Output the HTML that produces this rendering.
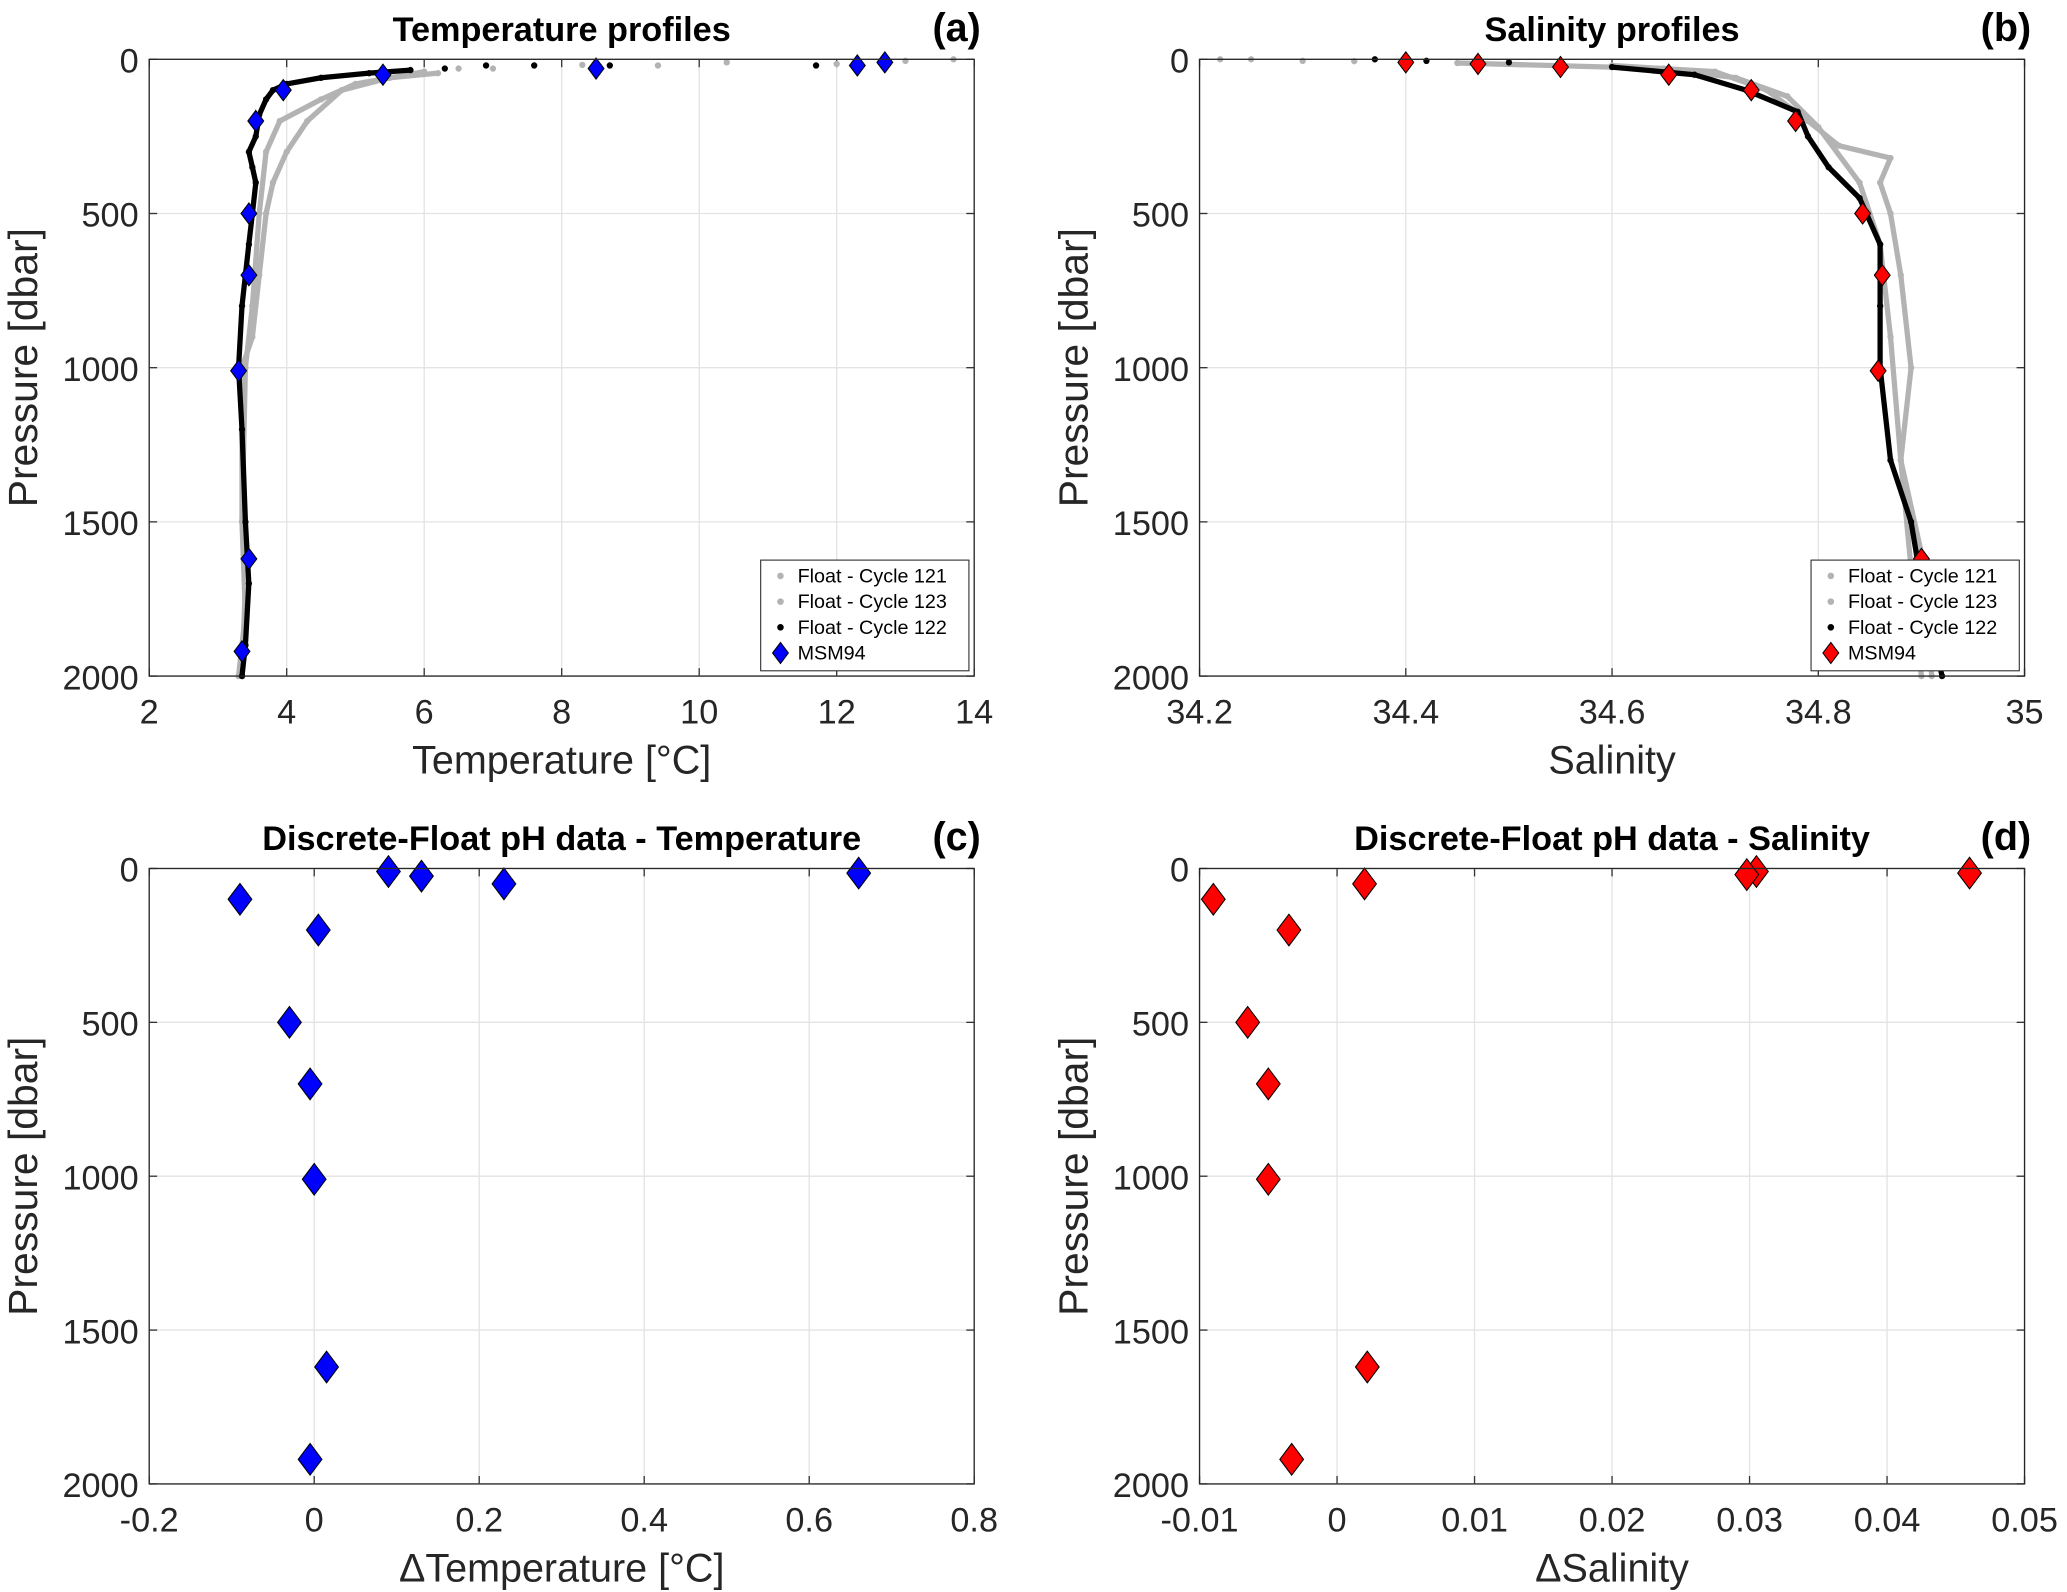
<!DOCTYPE html>
<html><head><meta charset="utf-8"><style>
html,body{margin:0;padding:0;background:#fff;}
svg{display:block;font-family:"Liberation Sans",sans-serif;}
</style></head><body>
<svg id="fig" width="2067" height="1592" viewBox="0 0 1568 1208" xmlns="http://www.w3.org/2000/svg"></svg>
<script>
// ---- data ----
const tempMSM_T=[12.7,12.3,8.5,5.4,3.95,3.55,3.45,3.45,3.3,3.45,3.35];
const tempMSM_P=[10,20,30,50,100,200,500,700,1010,1620,1920];
const tempC122_T=[11.7,8.7,7.6,6.9,6.3,5.8,5.2,4.5,4.0,3.8,3.7,3.6,3.55,3.45,3.5,3.55,3.5,3.45,3.4,3.35,3.3,3.35,3.4,3.45,3.4,3.35];
const tempC122_P=[20,20,20,20,30,35,45,60,80,100,130,180,250,300,350,400,500,600,700,800,1000,1200,1500,1700,1900,2000];
const tempC123_T=[13.7,12.0,9.4,7.0,6.2,5.5,4.8,4.3,4.0,3.8,3.7,3.6,3.5,3.35,3.35,3.4,3.35];
const tempC123_P=[0,15,20,30,45,60,100,200,300,400,500,700,900,1000,1500,1700,2000];
const tempC121_T=[13.0,10.4,8.3,6.5,6.0,5.0,4.5,3.9,3.7,3.6,3.5,3.4,3.35,3.4,3.3];
const tempC121_P=[5,10,18,30,40,80,130,200,300,500,800,1000,1500,1800,2000];
const salMSM_S=[34.40,34.47,34.55,34.655,34.735,34.778,34.843,34.862,34.858,34.9,34.905];
const salMSM_P=[10,15,25,50,100,200,500,700,1010,1620,1920];
const salC122_S=[34.37,34.42,34.5,34.6,34.68,34.73,34.78,34.79,34.81,34.84,34.86,34.86,34.86,34.87,34.89,34.9,34.92];
const salC122_P=[0,5,10,25,50,100,170,250,350,450,600,800,1000,1300,1500,1700,2000];
const salC123_S=[34.22,34.3,34.4,34.6,34.7,34.75,34.79,34.82,34.87,34.86,34.87,34.88,34.89,34.88,34.9,34.91];
const salC123_P=[0,5,10,20,40,100,200,280,320,400,500,700,1000,1300,1600,2000];
const salC121_S=[34.25,34.35,34.45,34.65,34.72,34.77,34.8,34.84,34.86,34.87,34.88,34.9];
const salC121_P=[0,6,12,30,60,120,220,400,600,900,1300,2000];
const dT_vals=[0.66,0.09,0.13,0.23,-0.09,0.005,-0.03,-0.005,0.0,0.015,-0.005];
const dT_P=[15,10,25,50,100,200,500,700,1010,1620,1920];
const dS_vals=[0.046,0.0305,0.0298,0.002,-0.009,-0.0035,-0.0065,-0.005,-0.005,0.0022,-0.0033];
const dS_P=[15,10,20,50,100,200,500,700,1010,1620,1920];
const yTicks=[0,500,1000,1500,2000];
const xTicksA=[2,4,6,8,10,12,14];
const xTicksB=[34.2,34.4,34.6,34.8,35];
const xTicksC=[-0.2,0,0.2,0.4,0.6,0.8];
const xTicksD=[-0.01,0,0.01,0.02,0.03,0.04,0.05];

const NS="http://www.w3.org/2000/svg";
const svg=document.getElementById('fig');
function mk(tag,attrs,parent){const e=document.createElementNS(NS,tag);for(const k in attrs)e.setAttribute(k,attrs[k]);(parent||svg).appendChild(e);return e;}
function txt(s,attrs,parent){const e=mk('text',attrs,parent);e.textContent=s;return e;}

function panel(id,box,xmin,xmax,xt,xlab,title,letter,titleX){
  const g=mk('g',{});
  
  
  const [L,R,T,B]=box;
  const sx=v=>L+(v-xmin)/(xmax-xmin)*(R-L);
  const sy=p=>T+p/2000*(B-T);
  mk('rect',{x:L,y:T,width:R-L,height:B-T,fill:'#fff'},g);
  xt.forEach(v=>{const l=mk('line',{x1:sx(v),x2:sx(v),y1:T,y2:B,stroke:'#e3e3e3','stroke-width':1},g);
    
    mk('line',{x1:sx(v),x2:sx(v),y1:B,y2:B-6,stroke:'#333'},g);mk('line',{x1:sx(v),x2:sx(v),y1:T,y2:T+6,stroke:'#333'},g);
    const t=txt(String(v),{x:sx(v),y:B+36,'text-anchor':'middle','font-size':26,fill:'#262626'},g);
    });
  yTicks.forEach(p=>{const l=mk('line',{x1:L,x2:R,y1:sy(p),y2:sy(p),stroke:'#e3e3e3'},g);
    
    mk('line',{x1:L,x2:L+6,y1:sy(p),y2:sy(p),stroke:'#333'},g);mk('line',{x1:R,x2:R-6,y1:sy(p),y2:sy(p),stroke:'#333'},g);
    const t=txt(String(p),{x:L-8,y:sy(p)+10,'text-anchor':'end','font-size':26,fill:'#262626'},g);
    });
  const xl=txt(xlab,{x:(L+R)/2,y:B+74,'text-anchor':'middle','font-size':30,fill:'#262626'},g);
  
  const yl=txt('Pressure [dbar]',{x:0,y:0,'text-anchor':'middle','font-size':31,fill:'#262626',transform:`translate(${L-85},${(T+B)/2}) rotate(-90)`},g);
  
  const tt=txt(title,{x:titleX,y:T-14,'text-anchor':'middle','font-size':26,'font-weight':'bold',fill:'#000'},g);
  
  const lt=txt(letter,{x:R+5,y:T-14,'text-anchor':'end','font-size':30,'font-weight':'bold',fill:'#000'},g);
  
  return {g,sx,sy,L,R,T,B};
}
function profile(pn,xs,ps,color,w,name,pmin){
  const idx=ps.map((p,i)=>i).filter(i=>ps[i]>=pmin);
  const pts=idx.map(i=>pn.sx(xs[i]).toFixed(1)+','+pn.sy(ps[i]).toFixed(1)).join(' ');
  const pl=mk('polyline',{points:pts,fill:'none',stroke:color,'stroke-width':w,'stroke-linejoin':'round'},pn.g);
  
  xs.forEach((v,i)=>{const c=mk('circle',{cx:pn.sx(v),cy:pn.sy(ps[i]),r:2.4,fill:color},pn.g);
    });
}
function diamonds(pn,xs,ps,color,hw,hh,name){
  xs.forEach((v,i)=>{const x=pn.sx(v),y=pn.sy(ps[i]);
    const d=mk('polygon',{points:`${x},${y-hh} ${x+hw},${y} ${x},${y+hh} ${x-hw},${y}`,fill:color,stroke:'#000','stroke-width':0.8},pn.g);
    });
}
function frame(pn){mk('rect',{x:pn.L,y:pn.T,width:pn.R-pn.L,height:pn.B-pn.T,fill:'none',stroke:'#262626','stroke-width':1},pn.g);}
function legend(pn,x,y,color){
  const g=mk('g',{},pn.g);
  
  mk('rect',{x:x,y:y,width:158,height:84,fill:'#fff',stroke:'#262626','stroke-width':0.8},g);
  const items=[['Float - Cycle 121','#b3b3b3'],['Float - Cycle 123','#b3b3b3'],['Float - Cycle 122','#000'],['MSM94',null]];
  items.forEach((it,i)=>{const yy=y+12+i*19.5;
    if(it[1])mk('circle',{cx:x+15,cy:yy,r:2.5,fill:it[1]},g);
    else mk('polygon',{points:`${x+15},${yy-8} ${x+21},${yy} ${x+15},${yy+8} ${x+9},${yy}`,fill:color,stroke:'#000','stroke-width':0.8},g);
    const t=txt(it[0],{x:x+28,y:yy+5,'font-size':15,fill:'#000'},g);
    });
}
// Panel a
const pa=panel('a',[113,739,45,513],2,14,xTicksA,'Temperature [°C]','Temperature profiles','(a)',426);
profile(pa,tempC121_T,tempC121_P,'#b3b3b3',4,'cycle-121-profile',40);
profile(pa,tempC123_T,tempC123_P,'#b3b3b3',4,'cycle-123-profile',45);
profile(pa,tempC122_T,tempC122_P,'#000',4,'cycle-122-profile',35);
diamonds(pa,tempMSM_T,tempMSM_P,'#0000ff',6,8,'msm94-point');
frame(pa);legend(pa,577,425,'#0000ff');
// Panel b
const pb=panel('b',[910,1536,45,513],34.2,35,xTicksB,'Salinity','Salinity profiles','(b)',1223);
profile(pb,salC121_S,salC121_P,'#b3b3b3',4,'cycle-121-profile',12);
profile(pb,salC123_S,salC123_P,'#b3b3b3',4,'cycle-123-profile',20);
profile(pb,salC122_S,salC122_P,'#000',4,'cycle-122-profile',25);
diamonds(pb,salMSM_S,salMSM_P,'#ff0000',6,8,'msm94-point');
frame(pb);legend(pb,1374,425,'#ff0000');
// Panel c
const pc=panel('c',[113,739,659,1126],-0.2,0.8,xTicksC,'ΔTemperature [°C]','Discrete-Float pH data - Temperature','(c)',426);
diamonds(pc,dT_vals,dT_P,'#0000ff',9,12,'delta-temperature-point');frame(pc);
// Panel d
const pd=panel('d',[910,1536,659,1126],-0.01,0.05,xTicksD,'ΔSalinity','Discrete-Float pH data - Salinity','(d)',1223);
diamonds(pd,dS_vals,dS_P,'#ff0000',9,12,'delta-salinity-point');frame(pd);
</script>
</body></html>
